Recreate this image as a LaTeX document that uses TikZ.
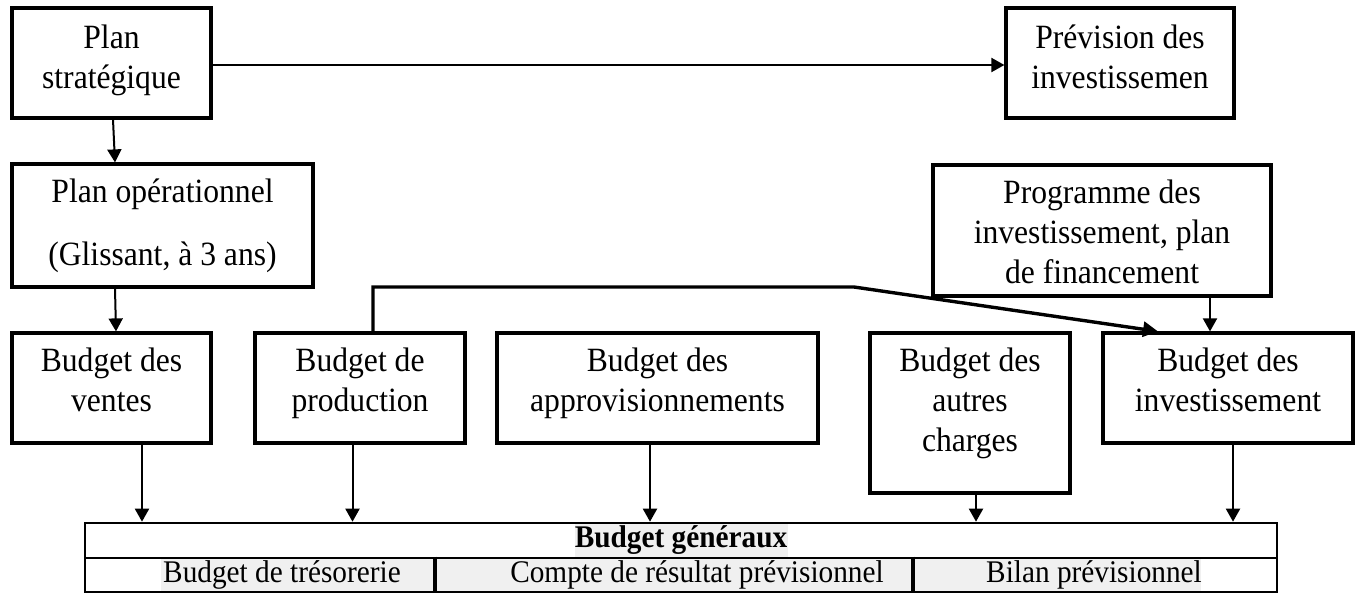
\documentclass[tikz,border=0pt]{standalone}
\usepackage{fontspec}
\setmainfont{Liberation Serif}[FakeStretch=0.93]
\usetikzlibrary{arrows.meta}
\definecolor{shade}{HTML}{F0F0F0}
\begin{document}
\begin{tikzpicture}[x=1pt,y=-1pt,
  box/.style={draw, line width=3.2pt, inner sep=0pt},
  boxtext/.style={inner sep=0pt, align=center, anchor=north,
              font=\fontsize{34}{40}\selectfont},
  link/.style={line width=2pt, -{Triangle[length=13pt,width=14pt]}},
  feed/.style={line width=3.4pt, line join=miter, -{Triangle[length=15pt,width=15pt]}},
  cell/.style={draw, line width=2.6pt, inner sep=0pt},
  divider/.style={line width=3.6pt},
  celltext/.style={inner sep=0pt, font=\fontsize{31.5}{36}\selectfont},
  hl/.style={fill=shade}]
\useasboundingbox (0,0) rectangle (1362,596);

% planning level
\node[box, minimum width=199pt, minimum height=110pt] (ps) at (111.5,63) {};
\node[box, minimum width=228pt, minimum height=110pt] (pi) at (1120,63) {};
\node[box, minimum width=301pt, minimum height=123pt] (po) at (162.5,225.5) {};
\node[box, minimum width=338pt, minimum height=131pt] (pg) at (1102,230.5) {};

% budgets
\node[box, minimum width=199pt, minimum height=110pt] (bv) at (111.5,388) {};
\node[box, minimum width=210pt, minimum height=110pt] (bp) at (360,388) {};
\node[box, minimum width=321pt, minimum height=110pt] (ba) at (657.5,388) {};
\node[box, minimum width=200pt, minimum height=160pt] (bc) at (970,413) {};
\node[box, minimum width=250pt, minimum height=110pt] (bi) at (1228,388) {};

% box texts, set from the top edge of each box
\node[boxtext] (pst) at ([yshift=-18.5pt]ps.north) {Plan\\stratégique};
\node[boxtext] (pit) at ([yshift=-18.5pt]pi.north) {Prévision des\\investissemen};
\node[boxtext] (pot) at ([yshift=-16.5pt]po.north) {Plan opérationnel\\[23pt](Glissant, à 3 ans)};
\node[boxtext] (pgt) at ([yshift=-16.5pt]pg.north) {Programme des\\investissement, plan\\de financement};
\node[boxtext] (bvt) at ([yshift=-16.5pt]bv.north) {Budget des\\ventes};
\node[boxtext] (bpt) at ([yshift=-16.5pt]bp.north) {Budget de\\production};
\node[boxtext] (bat) at ([yshift=-16.5pt]ba.north) {Budget des\\approvisionnements};
\node[boxtext] (bct) at ([yshift=-16.5pt]bc.north) {Budget des\\autres\\charges};
\node[boxtext] (bit) at ([yshift=-16.5pt]bi.north) {Budget des\\investissement};

% general budgets table: shading behind the texts
\fill[hl] (575,523) rectangle (788,558);
\fill[hl] (161,558) rectangle (434,592);
\fill[hl] (434,558) rectangle (912,592);
\fill[hl] (912,558) rectangle (1201,592);

\node[cell, minimum width=1192pt, minimum height=35pt] (gen) at (681,540.5) {};
\node[cell, minimum width=349pt, minimum height=34pt] (c1) at (259.5,575) {};
\node[cell, minimum width=478pt, minimum height=34pt] (c2) at (673,575) {};
\node[cell, minimum width=365pt, minimum height=34pt] (c3) at (1094.5,575) {};
\draw[divider] (c1.north east) -- (c1.south east);
\draw[divider] (c2.north east) -- (c2.south east);

\node[celltext, font=\fontsize{31.5}{36}\selectfont\bfseries] (t0) at (gen.center) {Budget généraux};
\node[celltext] (t1) at (282,575) {Budget de trésorerie};
\node[celltext] (t2) at (697,575) {Compte de résultat prévisionnel};
\node[celltext] (t3) at (1094,575) {Bilan prévisionnel};

% connectors
\draw[link] ([yshift=-2pt]ps.east) -- ([yshift=-2pt]pi.west);
\draw[link] ([xshift=1.5pt]ps.south) -- ([xshift=-47.5pt]po.north);
\draw[link] ([xshift=-47.5pt]po.south) -- ([xshift=4.5pt]bv.north);
\draw[link] ([xshift=108pt]pg.south) -- ([xshift=-18pt]bi.north);

\coordinate (bend) at (854,287);
\draw[feed] ([xshift=13pt]bp.north) |- (bend) -- ([xshift=-70pt]bi.north);

\draw[link] ([xshift=30.5pt]bv.south) -- ([xshift=30.5pt]bv.south |- gen.north);
\draw[link] ([xshift=-7.5pt]bp.south) -- ([xshift=-7.5pt]bp.south |- gen.north);
\draw[link] ([xshift=-7.5pt]ba.south) -- ([xshift=-7.5pt]ba.south |- gen.north);
\draw[link] ([xshift=6pt]bc.south) -- ([xshift=6pt]bc.south |- gen.north);
\draw[link] ([xshift=5pt]bi.south) -- ([xshift=5pt]bi.south |- gen.north);
\end{tikzpicture}
\end{document}
